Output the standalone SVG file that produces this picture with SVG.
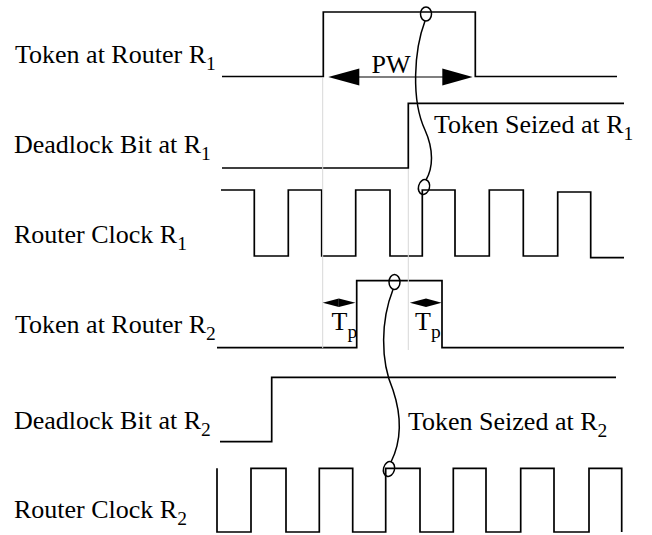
<svg xmlns="http://www.w3.org/2000/svg" width="652" height="535" viewBox="0 0 652 535">
  <style>
    .lbl { font-family: "Liberation Serif", "Times New Roman", serif; font-size: 26px; fill: #000; }
    .sub { font-size: 19.5px; }
    .wave { fill: none; stroke: #000; stroke-width: 1.7; stroke-linejoin: miter; }
    .guide { fill: none; stroke: #d8d8d8; stroke-width: 1; }
    .conn { fill: none; stroke: #000; stroke-width: 1.5; }
    .head { fill: #000; stroke: none; }
    .dim { fill: none; stroke: #000; stroke-width: 1.2; }
  </style>

  <!-- Signal labels -->
  <g id="label-token-r1"><text class="lbl" x="15" y="63">Token at Router R<tspan class="sub" dy="7">1</tspan></text></g>
  <g id="label-deadlock-r1"><text class="lbl" x="14" y="153">Deadlock Bit at R<tspan class="sub" dy="7">1</tspan></text></g>
  <g id="label-clock-r1"><text class="lbl" x="14" y="243">Router Clock R<tspan class="sub" dy="7">1</tspan></text></g>
  <g id="label-token-r2"><text class="lbl" x="15" y="333">Token at Router R<tspan class="sub" dy="7">2</tspan></text></g>
  <g id="label-deadlock-r2"><text class="lbl" x="14" y="429">Deadlock Bit at R<tspan class="sub" dy="7">2</tspan></text></g>
  <g id="label-clock-r2"><text class="lbl" x="14" y="518">Router Clock R<tspan class="sub" dy="7">2</tspan></text></g>

  <!-- Waveforms -->
  <g id="wave-token-r1"><path class="wave" d="M222 76.5 H323.3 V12 H475.3 V76.5 H617"/></g>
  <g id="wave-deadlock-r1"><path class="wave" d="M222 168 H408.3 V103.3 H624"/></g>
  <g id="wave-clock-r1"><path class="wave" d="M221 190 H254.3 V256 H288.3 V190 H321.7 V256 H355.7 V190 H390 V256 H422.3 V190 H455 V256 H489.3 V190 H523.3 V256 H557.7 V192 H590.7 V257.7 H624"/></g>
  <g id="wave-token-r2"><path class="wave" d="M217 347.7 H356.7 V280.7 H442 V347.7 H624"/></g>
  <g id="wave-deadlock-r2"><path class="wave" d="M220 441.7 H271.7 V377.3 H616"/></g>
  <g id="wave-clock-r2"><path class="wave" d="M217 468.3 V532 H251 V468.3 H286 V532 H319.3 V468.3 H352.7 V532 H385.7 V468.3 H420 V532 H453.3 V468.3 H486 V532 H520.7 V468.3 H554 V532 H589 V468.3 H621.7 V532"/></g>

  <!-- Timing guides -->
  <g id="guides">
    <line class="guide" x1="322.7" y1="78" x2="322.7" y2="348"/>
    <line class="guide" x1="408.3" y1="169" x2="408.3" y2="350"/>
  </g>

  <!-- Pulse width dimension -->
  <g id="pw">
    <line class="dim" x1="350" y1="77" x2="450" y2="77"/>
    <polygon class="head" points="328.3,77 359.3,68.5 359.3,85.5"/>
    <polygon class="head" points="472.7,77 442.3,68.5 442.3,85.5"/>
    <text class="lbl" x="371.5" y="73">PW</text>
  </g>

  <!-- Propagation delay dimensions -->
  <g id="tp-left">
    <polygon class="head" points="322.7,302.7 338.8,298.5 338.8,306.9"/>
    <polygon class="head" points="355.5,302.7 338.8,298.5 338.8,306.9"/>
    <text class="lbl" x="331.5" y="330">T<tspan class="sub" dy="8">p</tspan></text>
  </g>
  <g id="tp-right">
    <polygon class="head" points="409.8,302.7 426,298.5 426,306.9"/>
    <polygon class="head" points="441.7,302.7 426,298.5 426,306.9"/>
    <text class="lbl" x="415" y="330">T<tspan class="sub" dy="8">p</tspan></text>
  </g>

  <!-- Event annotations -->
  <g id="label-seized-r1"><text class="lbl" x="434" y="133">Token Seized at R<tspan class="sub" dy="7">1</tspan></text></g>
  <g id="label-seized-r2"><text class="lbl" x="408" y="430">Token Seized at R<tspan class="sub" dy="7">2</tspan></text></g>

  <!-- Causal connectors -->
  <g id="connectors">
    <ellipse class="conn" cx="426" cy="14" rx="5.5" ry="7"/>
    <path class="conn" d="M425 21 C414 50, 411 100, 425 130 C434 150, 433 168, 426 180"/>
    <ellipse class="conn" cx="424" cy="187" rx="5.5" ry="7.5" transform="rotate(15 424 187)"/>

    <ellipse class="conn" cx="394.5" cy="282" rx="5.5" ry="7.5"/>
    <path class="conn" d="M393 289.5 C381 320, 380 360, 393 390 C401 414, 402 440, 391 462"/>
    <ellipse class="conn" cx="389" cy="469" rx="5.5" ry="7.5" transform="rotate(15 389 469)"/>
  </g>
</svg>
